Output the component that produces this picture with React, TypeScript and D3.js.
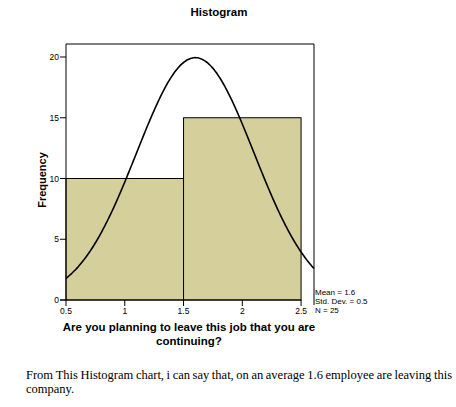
import React from "react";
import * as d3 from "d3";

const binEdges = [0.5, 1.5, 2.5];
const binCounts = [10, 15];
const xTicks = [0.5, 1, 1.5, 2, 2.5];
const yTicks = [0, 5, 10, 15, 20];
const meanVal = 1.6;
const sdVal = 0.5;
const nVal = 25;
const legendLines = ["Mean = 1.6", "Std. Dev. = 0.5", "N = 25"];
const titleText = "Histogram";
const xLabelLines = ["Are you planning to leave this job that you are", "continuing?"];
const yLabelText = "Frequency";
const noteLines = [
  "From This Histogram chart, i can say that, on an average 1.6 employee are leaving this",
  "company.",
];

const W = 456;
const H = 407;
const left = 66, right = 314, top = 44, bottom = 300;
const xMax = 2.61;
const yMax = 21.07;

function measure(text: string, font: string): number {
  const c = document.createElement("canvas").getContext("2d");
  if (!c) return text.length * 6;
  c.font = font;
  return c.measureText(text).width;
}

export default function App() {
  const x = d3.scaleLinear().domain([0.5, xMax]).range([left, right]);
  const y = d3.scaleLinear().domain([0, yMax]).range([bottom, top]);

  const pdf = (v: number) =>
    (nVal * 1) / (sdVal * Math.sqrt(2 * Math.PI)) * Math.exp(-((v - meanVal) ** 2) / (2 * sdVal * sdVal));
  const curvePts = d3.range(0, 201).map((i) => 0.5 + ((xMax - 0.5) * i) / 200);
  const line = d3.line<number>().x((d) => x(d)).y((d) => y(pdf(d))).curve(d3.curveBasis);

  const noteFont = "12.5px 'Liberation Serif'";
  const noteLeft = 26, noteRight = 452;
  const words = noteLines[0].split(" ");
  const widths = words.map((w) => measure(w, noteFont));
  const totalW = widths.reduce((a, b) => a + b, 0);
  const gap = (noteRight - noteLeft - totalW) / (words.length - 1);
  let cx = noteLeft;
  const wordPos = words.map((w, i) => {
    const p = cx;
    cx += widths[i] + gap;
    return p;
  });

  return (
    <svg width={W} height={H} style={{ position: "absolute", left: 0, top: 0, background: "#fff" }}>
      <rect x={0} y={0} width={W} height={H} fill="#fff" />
      <text x={219} y={16} textAnchor="middle" fontFamily="Arial, 'Liberation Sans'" fontWeight="bold" fontSize={11.5}>
        {titleText}
      </text>
      {binCounts.map((c, i) => (
        <rect
          key={i}
          x={x(binEdges[i])}
          y={y(c)}
          width={x(binEdges[i + 1]) - x(binEdges[i])}
          height={y(0) - y(c)}
          fill="#d4cf9b"
          stroke="#000"
          strokeWidth={1}
        />
      ))}
      <path d={line(curvePts) || ""} fill="none" stroke="#000" strokeWidth={1.6} />
      {/* frame */}
      <line x1={left} y1={top} x2={right} y2={top} stroke="#000" />
      <line x1={right} y1={top} x2={right} y2={305} stroke="#000" />
      {/* y axis */}
      <line x1={left} y1={top} x2={left} y2={bottom} stroke="#000" />
      {yTicks.map((t) => (
        <g key={t}>
          <line x1={left - 6} x2={left} y1={y(t)} y2={y(t)} stroke="#000" />
          <text x={left - 7} y={y(t) + 3} textAnchor="end" fontFamily="Arial, 'Liberation Sans'" fontSize={8.5}>
            {t}
          </text>
        </g>
      ))}
      {/* x axis */}
      <line x1={left - 6} x2={x(2.5)} y1={bottom} y2={bottom} stroke="#000" />
      {xTicks.map((t) => (
        <g key={t}>
          <line x1={x(t)} x2={x(t)} y1={bottom} y2={bottom + 6} stroke="#000" />
          <text x={x(t)} y={bottom + 14} textAnchor="middle" fontFamily="Arial, 'Liberation Sans'" fontSize={8.5}>
            {t}
          </text>
        </g>
      ))}
      {legendLines.map((l, i) => (
        <text key={l} x={right + 1} y={295 + i * 9} fontFamily="Arial, 'Liberation Sans'" fontSize={8}>
          {l}
        </text>
      ))}
      <text
        transform={`translate(46,${(top + bottom) / 2 + 8}) rotate(-90)`}
        textAnchor="middle"
        fontFamily="Arial, 'Liberation Sans'"
        fontWeight="bold"
        fontSize={11}
      >
        {yLabelText}
      </text>
      {xLabelLines.map((l, i) => (
        <text
          key={l}
          x={189}
          y={331 + i * 14}
          textAnchor="middle"
          fontFamily="Arial, 'Liberation Sans'"
          fontWeight="bold"
          fontSize={11.5}
        >
          {l}
        </text>
      ))}
      {words.map((w, i) => (
        <text key={i} x={wordPos[i]} y={379} fontFamily="'Liberation Serif'" fontSize={12.5}>
          {w}
        </text>
      ))}
      <text x={noteLeft} y={393} fontFamily="'Liberation Serif'" fontSize={12.5}>
        {noteLines[1]}
      </text>
    </svg>
  );
}
